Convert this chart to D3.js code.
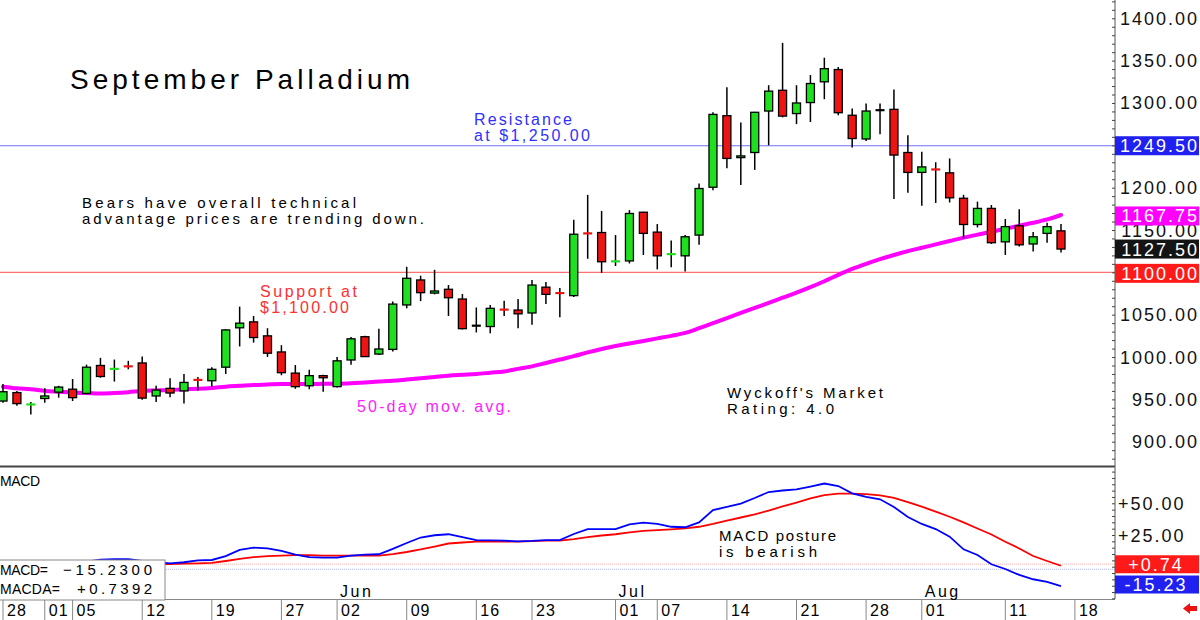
<!DOCTYPE html>
<html>
<head>
<meta charset="utf-8">
<script src="https://cdn.jsdelivr.net/npm/d3@7"></script>
<style>
  body { margin: 0; background: #fff; }
  svg { display: block; font-family: "Liberation Sans", Arial, sans-serif; }
</style>
</head>
<body>
<div id="chart"></div>
<script>
// daily candles, 28 apr .. 15 aug (77 trading days)
var opens = [948, 958, 943.5, 951, 958.5, 962, 957, 990, 985.5, 989.5,
  993, 954, 963, 960, 973.5, 972, 988, 1034.5, 1041.5, 1025,
  1006, 981, 966, 978, 965, 996.5, 1024, 1003.5, 1009, 1061.5,
  1091, 1075.5, 1080, 1068.5, 1037, 1036, 1056.5, 1055.5, 1052, 1082.5,
  1076, 1072.5, 1146.5, 1147, 1112.5, 1113.5, 1171, 1147.5, 1121, 1119.5,
  1144, 1200.5, 1285, 1235.5, 1241.5, 1290.5, 1315, 1287.5, 1300.5, 1325,
  1339.5, 1285.5, 1257.5, 1291.5, 1292.5, 1241.5, 1218, 1222, 1217.5, 1187.5,
  1156.5, 1175.5, 1136, 1155, 1133.5, 1146, 1149];
var highs = [968, 960, 947, 963, 966, 974, 991, 999, 997, 995.5,
  1000.5, 966, 975, 980, 976.5, 988, 1033, 1059.5, 1048.5, 1034,
  1014, 990.5, 985, 979, 1000, 1023.5, 1025, 1033.5, 1065.5, 1106.5,
  1096, 1103, 1085, 1074.5, 1058.5, 1061.5, 1066.5, 1068.5, 1091, 1088.5,
  1081.5, 1162, 1191.5, 1172.5, 1144, 1173.5, 1171.5, 1157, 1137.5, 1144,
  1205, 1289, 1318.5, 1277, 1289.5, 1321, 1371, 1321, 1333, 1353.5,
  1342.5, 1293.5, 1299.5, 1299.5, 1316, 1262, 1242.5, 1230, 1234.5, 1191.5,
  1183.5, 1179.5, 1163, 1174.5, 1147.5, 1158.5, 1157];
var lows = [946, 942.5, 932, 946, 952, 948, 956, 975.5, 971, 985.5,
  949.5, 947, 952.5, 945, 960.5, 965, 980, 1012.5, 1017, 1000,
  978.5, 962.5, 962, 959, 964, 991, 1000, 1002.5, 1006.5, 1057.5,
  1066, 1074, 1048.5, 1032.5, 1029, 1028, 1048.5, 1034, 1038, 1062.5,
  1047, 1071, 1116, 1099.5, 1107.5, 1110.5, 1120.5, 1103.5, 1106, 1101,
  1132.5, 1197, 1223, 1203, 1221, 1250, 1283, 1275, 1277.5, 1304.5,
  1285.5, 1247.5, 1255, 1263, 1186.5, 1194, 1178.5, 1182, 1182.5, 1140,
  1153, 1133.5, 1120.5, 1130.5, 1124.5, 1135, 1123.5];
var closes = [959, 945, 944.5, 954, 964.5, 952, 988, 977, 986.5, 988.5,
  951.5, 961, 957.5, 970, 972.5, 985.5, 1032, 1040, 1023, 1004.5,
  981.5, 965, 978, 975.5, 995.5, 1021.5, 1000.5, 1009.5, 1062.5, 1093,
  1076, 1078, 1070, 1033.5, 1037, 1057.5, 1055.5, 1051, 1085, 1074,
  1075, 1145, 1145.5, 1112.5, 1113.5, 1169.5, 1146, 1119.5, 1122, 1142,
  1199, 1286.5, 1234.5, 1237.5, 1289, 1314, 1284.5, 1300, 1323, 1340.5,
  1288.5, 1258, 1290.5, 1291.5, 1238.5, 1218, 1224.5, 1221, 1188, 1156.5,
  1175.5, 1135, 1154, 1132.5, 1142, 1154, 1127.5];

// 50-day moving average
var ma50 = [965, 963, 962, 960, 959, 958, 957.5, 957, 957.5, 958.5,
  960, 960.5, 961, 962, 962.5, 963.5, 965, 966, 967, 967.5,
  968, 968, 968, 968.5, 968.5, 969, 970, 971, 972, 973.5,
  975, 976.5, 978, 979, 980, 981.5, 983, 986, 989, 993,
  997, 1001, 1005.5, 1009.5, 1013, 1016, 1019, 1022, 1025, 1028.5,
  1034, 1040, 1046, 1052, 1058, 1064, 1070, 1076, 1082.5, 1089.5,
  1097, 1104, 1110, 1115.5, 1120.5, 1125, 1129, 1133, 1137, 1141,
  1144.5, 1148, 1151.5, 1155, 1158.5, 1162.5, 1167.75];

// macd (blue) and its average (red)
var macd = [3, 2, 1.5, 1.5, 2, 3, 4, 5.5, 6, 6,
  4.5, 3.5, 2.7, 3.5, 5, 5.3, 8.4, 13.2, 15, 14.5,
  12.4, 9.6, 7.6, 7.1, 7.1, 8.8, 9.6, 9.8, 14, 18.7,
  23, 24.8, 25.6, 23.4, 21, 20.7, 20.5, 19.9, 20.3, 21,
  21, 25.8, 29.7, 29.7, 29.7, 33.3, 34.7, 33.7, 31.5, 31.1,
  34.9, 44.7, 47.1, 49.8, 54.2, 58.9, 60.1, 60.9, 63.2, 65.6,
  63.6, 57.9, 55, 53.2, 47.1, 39.2, 33.7, 29.7, 23.7, 13.7,
  9.2, 1.9, -1.8, -6.5, -9.9, -12, -15.23];
var macdAvg = [2, 2, 2, 2, 2, 2, 2, 2.1, 2.1, 2.1,
  2.1, 2, 2.1, 2.4, 2.6, 3, 4.5, 6.1, 7.6, 8.4,
  8.8, 9.2, 9.2, 8.8, 8.8, 8.8, 8.8, 8.8, 10, 11.6,
  13.7, 15.9, 18.3, 19.1, 19.7, 19.7, 19.7, 19.7, 20.1, 20.5,
  20.5, 21.8, 23.4, 24.6, 25.6, 27, 28.2, 28.9, 29.5, 30.3,
  31.5, 33.7, 36.4, 38.8, 41.2, 44.3, 47.5, 50.6, 53.8, 56.5,
  57.6, 57.7, 57.3, 56.2, 54.2, 51, 47.3, 43.5, 39.4, 34.9,
  30.1, 25.4, 19.7, 14.4, 8.4, 4.5, 0.74];

// bottom date row
var tickIdx = [0, 3, 5, 10, 15, 20, 24, 29, 34, 38, 44, 47, 52, 57, 62, 66, 72, 77];
var tickLabels = ["28", "01", "05", "12", "19", "27", "02", "09", "16", "23", "01", "07", "14", "21", "28", "01", "11", "18"];
var monthIdx = [24, 44, 66];
var monthLabels = ["Jun", "Jul", "Aug"];

// axis labels and marked levels
var priceTicks = [900, 950, 1000, 1050, 1100, 1150, 1200, 1250, 1300, 1350, 1400];
var macdTicks = [25, 50];
var resistance = 1249.5, support = 1100;
var lastClose = 1127.5, lastMa = 1167.75;
var lastMacd = -15.23, lastMacdAvg = 0.74;

window.onload = function() {

  var width = 1200, height = 620, right = 1115;

  var svg = d3.select("#chart").append("svg")
    .attr("width", width)
    .attr("height", height);
  svg.append("rect").attr("width", width).attr("height", height).attr("fill", "#fff");

  var x = d3.scaleLinear().domain([0, 76]).range([3, 1061]);
  var yP = d3.scaleLinear().domain([900, 1400]).range([441.7, 18.3]);
  var yM = d3.scaleLinear().domain([0, 50]).range([566.7, 503.3]);

  var defs = svg.append("defs");
  defs.append("clipPath").attr("id", "clipP")
    .append("rect").attr("x", 0).attr("y", 0).attr("width", right).attr("height", 466);
  defs.append("clipPath").attr("id", "clipM")
    .append("rect").attr("x", 0).attr("y", 468).attr("width", right).attr("height", 131);

  // small text helper
  function txt(s, px, py, o) {
    var t = svg.append("text").attr("x", px).attr("y", py).text(s)
      .style("font-size", (o.size || 16) + "px")
      .attr("fill", o.color || "#000");
    if (o.len) t.attr("textLength", o.len).attr("lengthAdjust", "spacing");
    if (o.anchor) t.attr("text-anchor", o.anchor);
    if (o.ls) t.style("letter-spacing", o.ls + "px");
    return t;
  }

  // price panel
  var gp = svg.append("g").attr("clip-path", "url(#clipP)");

  gp.append("line")
    .attr("x1", 0).attr("x2", right)
    .attr("y1", yP(resistance)).attr("y2", yP(resistance))
    .attr("stroke", "#6f6fff").attr("stroke-width", 1.2);
  gp.append("line")
    .attr("x1", 0).attr("x2", right)
    .attr("y1", yP(support)).attr("y2", yP(support))
    .attr("stroke", "#ff7070").attr("stroke-width", 1.2);

  var maLine = d3.line()
    .x(function(d, i) { return x(i); })
    .y(function(d) { return yP(d); })
    .curve(d3.curveMonotoneX);
  gp.append("path")
    .datum(ma50)
    .attr("d", maLine)
    .attr("fill", "none")
    .attr("stroke", "#ff00ff")
    .attr("stroke-width", 4)
    .attr("stroke-linecap", "round");

  var candles = opens.map(function(o, i) {
    return {i: i, o: o, h: highs[i], l: lows[i], c: closes[i]};
  });

  function candleColor(d) {
    if (d.c > d.o) return "#1ee01e";
    if (d.c < d.o) return "#ee1414";
    return "#000";
  }

  gp.selectAll(".wick")
    .data(candles)
    .enter().append("line")
    .attr("class", "wick")
    .attr("x1", function(d) { return x(d.i); })
    .attr("x2", function(d) { return x(d.i); })
    .attr("y1", function(d) { return yP(d.h); })
    .attr("y2", function(d) { return yP(d.l); })
    .attr("stroke", "#000")
    .attr("stroke-width", 1.5);

  // real bodies
  gp.selectAll(".body")
    .data(candles.filter(function(d) { return Math.abs(d.c - d.o) >= 1.2; }))
    .enter().append("rect")
    .attr("class", "body")
    .attr("x", function(d) { return x(d.i) - 4; })
    .attr("width", 8)
    .attr("y", function(d) { return yP(Math.max(d.o, d.c)); })
    .attr("height", function(d) { return Math.max(1.5, yP(Math.min(d.o, d.c)) - yP(Math.max(d.o, d.c))); })
    .attr("fill", candleColor)
    .attr("stroke", "#000")
    .attr("stroke-width", 1.3);

  // doji crosses
  gp.selectAll(".cross")
    .data(candles.filter(function(d) { return Math.abs(d.c - d.o) < 1.2; }))
    .enter().append("line")
    .attr("class", "cross")
    .attr("x1", function(d) { return x(d.i) - 4.5; })
    .attr("x2", function(d) { return x(d.i) + 4.5; })
    .attr("y1", function(d) { return yP((d.o + d.c) / 2); })
    .attr("y2", function(d) { return yP((d.o + d.c) / 2); })
    .attr("stroke", candleColor)
    .attr("stroke-width", 2.2);

  // macd panel
  var gm = svg.append("g").attr("clip-path", "url(#clipM)");
  gm.append("line")
    .attr("x1", 0).attr("x2", right)
    .attr("y1", yM(2)).attr("y2", yM(2))
    .attr("stroke", "#ffb0b0").attr("stroke-dasharray", "1,1");
  gm.append("line")
    .attr("x1", 0).attr("x2", right)
    .attr("y1", yM(-2)).attr("y2", yM(-2))
    .attr("stroke", "#b0b0ff").attr("stroke-dasharray", "1,1");

  var mLine = d3.line()
    .x(function(d, i) { return x(i); })
    .y(function(d) { return yM(d); });
  gm.append("path").datum(macdAvg).attr("d", mLine)
    .attr("fill", "none").attr("stroke", "#ff0000").attr("stroke-width", 1.8);
  gm.append("path").datum(macd).attr("d", mLine)
    .attr("fill", "none").attr("stroke", "#0000ff").attr("stroke-width", 1.8);

  // panel frame
  svg.append("line").attr("x1", 0).attr("x2", right).attr("y1", 466.5).attr("y2", 466.5)
    .attr("stroke", "#444").attr("stroke-width", 2);
  svg.append("line").attr("x1", right).attr("x2", right).attr("y1", 0).attr("y2", 599)
    .attr("stroke", "#555").attr("stroke-width", 1);
  svg.append("line").attr("x1", 0).attr("x2", right).attr("y1", 599.5).attr("y2", 599.5)
    .attr("stroke", "#888").attr("stroke-width", 1);

  // minor ticks on the right axis
  var tp = d3.axisLeft(yP).tickValues(d3.range(880, 1430, 10)).tickSize(3).tickFormat("");
  var gtp = svg.append("g").attr("transform", "translate(" + right + ",0)").call(tp);
  var tm = d3.axisLeft(yM).tickValues(d3.range(-25, 80, 5)).tickSize(3).tickFormat("");
  var gtm = svg.append("g").attr("transform", "translate(" + right + ",0)").call(tm);
  [gtp, gtm].forEach(function(g) {
    g.select(".domain").remove();
    g.selectAll("line").attr("stroke", "#444");
  });

  // price labels
  svg.selectAll(".plab")
    .data(priceTicks)
    .enter().append("text")
    .attr("class", "plab")
    .attr("x", 1199)
    .attr("y", function(d) { return yP(d) + 6.5; })
    .attr("text-anchor", "end")
    .style("font-size", "18px")
    .style("letter-spacing", "2px")
    .attr("fill", "#111")
    .text(function(d) { return d3.format(".2f")(d); });

  svg.selectAll(".mlab")
    .data(macdTicks)
    .enter().append("text")
    .attr("class", "mlab")
    .attr("x", 1118)
    .attr("y", function(d) { return yM(d) + 6.5; })
    .style("font-size", "18px")
    .style("letter-spacing", "2px")
    .attr("fill", "#111")
    .text(function(d) { return "+" + d3.format(".2f")(d); });

  // coloured value boxes
  var boxes = [
    {v: resistance, c: "#2020f0", y: yP(resistance)},
    {v: lastMa, c: "#ff00ff", y: yP(lastMa) + 1},
    {v: lastClose, c: "#141414", y: yP(lastClose)},
    {v: support, c: "#ff1a1a", y: yP(support) + 1}
  ];
  boxes.forEach(function(b) {
    svg.append("rect").attr("x", right).attr("y", b.y - 9.5).attr("width", 84).attr("height", 19)
      .attr("fill", b.c);
    txt(d3.format(".2f")(b.v), 1199, b.y + 6.5, {size: 18, ls: 2, anchor: "end", color: "#fff"});
  });
  var mboxes = [
    {t: "+0.74", c: "#ff1a1a", y: yM(lastMacdAvg) - 1.5},
    {t: "-15.23", c: "#2020f0", y: yM(lastMacd) - 1.5}
  ];
  mboxes.forEach(function(b) {
    svg.append("rect").attr("x", right).attr("y", b.y - 9).attr("width", 84).attr("height", 18)
      .attr("fill", b.c);
    txt(b.t, 1156, b.y + 6.5, {size: 18, ls: 2, anchor: "middle", color: "#fff"});
  });

  // date row
  svg.selectAll(".sep")
    .data(tickIdx)
    .enter().append("line")
    .attr("class", "sep")
    .attr("x1", function(d) { return x(d); })
    .attr("x2", function(d) { return x(d); })
    .attr("y1", 600).attr("y2", 620)
    .attr("stroke", "#888");
  svg.selectAll(".dlab")
    .data(tickIdx)
    .enter().append("text")
    .attr("class", "dlab")
    .attr("x", function(d) { return x(d) + 4; })
    .attr("y", 616)
    .style("font-size", "16px")
    .style("letter-spacing", "1px")
    .text(function(d, i) { return tickLabels[i]; });
  svg.selectAll(".mon")
    .data(monthIdx)
    .enter().append("text")
    .attr("class", "mon")
    .attr("x", function(d) { return x(d) + 3; })
    .attr("y", 597)
    .style("font-size", "16px")
    .style("letter-spacing", "2.5px")
    .text(function(d, i) { return monthLabels[i]; });

  // macd readout box
  svg.append("rect").attr("x", -1).attr("y", 560).attr("width", 166).attr("height", 40)
    .attr("fill", "#fff").attr("stroke", "#888");
  txt("MACD=", 0, 575, {size: 14, len: 48});
  txt(d3.format(".4f")(lastMacd), 152, 575, {size: 15, len: 89, anchor: "end"});
  txt("MACDA=", 0, 594, {size: 14, len: 60});
  txt("+" + d3.format(".4f")(0.7392), 152, 594, {size: 15, len: 75, anchor: "end"});

  // annotations
  txt("September Palladium", 70, 89, {size: 28, len: 340});
  txt("Resistance", 474, 125, {size: 16, len: 98, color: "#3030ff"});
  txt("at $1,250.00", 474, 141, {size: 16, len: 116, color: "#3030ff"});
  txt("Bears have overall technical", 82, 208, {size: 15, len: 274});
  txt("advantage prices are trending down.", 82, 224, {size: 15, len: 342});
  txt("Support at", 260, 297, {size: 16, len: 97, color: "#ff3030"});
  txt("$1,100.00", 260, 313, {size: 16, len: 89, color: "#ff3030"});
  txt("50-day mov. avg.", 357, 412, {size: 16, len: 154, color: "#ff20ff"});
  txt("Wyckoff's Market", 727, 398, {size: 15, len: 156});
  txt("Rating: 4.0", 727, 414, {size: 15, len: 107});
  txt("MACD posture", 719, 541, {size: 15, len: 117});
  txt("is bearish", 719, 557, {size: 15, len: 98});
  txt("MACD", 0, 486, {size: 14, len: 40});

  // little red arrow bottom right
  svg.append("path")
    .attr("d", "M1183,608.5 L1190,603 L1190,606 L1197,606 L1197,611 L1190,611 L1190,614 Z")
    .attr("fill", "#ee1111");
};
</script>
</body>
</html>
